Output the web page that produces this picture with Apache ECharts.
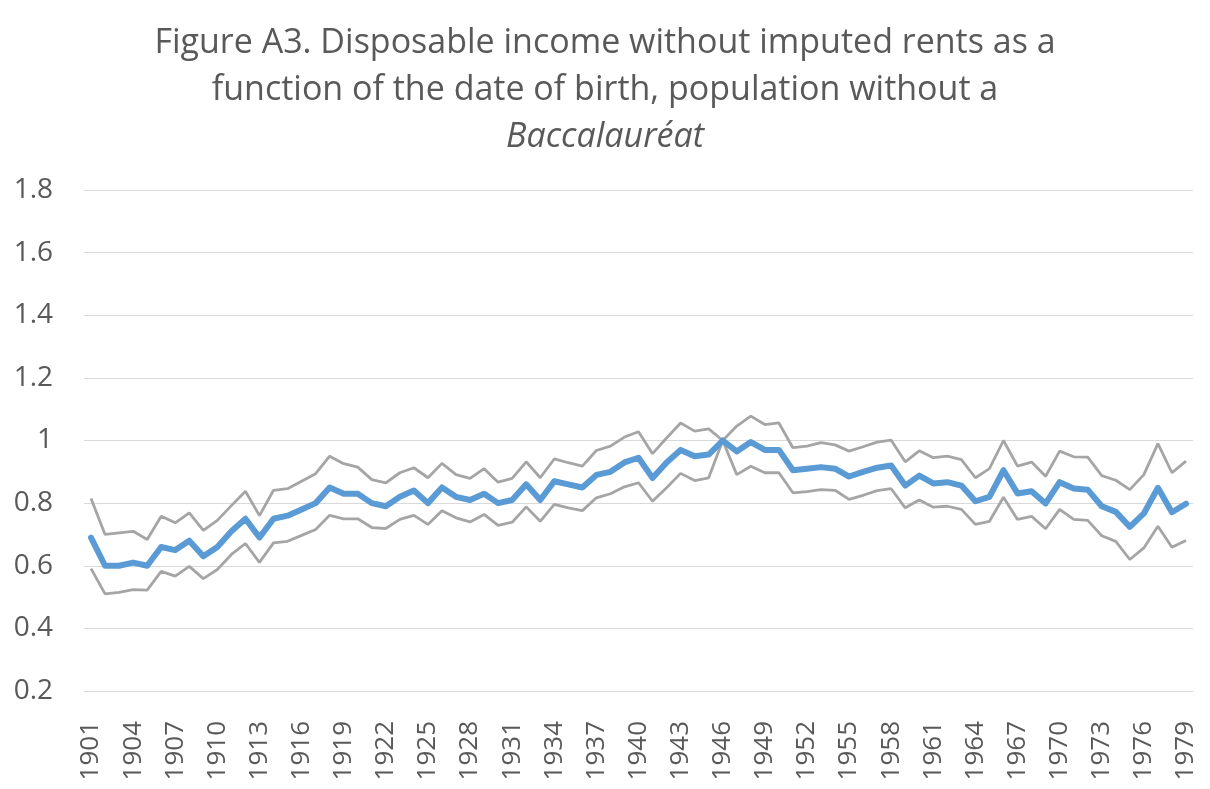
<!DOCTYPE html>
<html>
<head>
<meta charset="utf-8">
<script src="https://cdn.jsdelivr.net/npm/echarts@6/dist/echarts.min.js"></script>
<style>html,body{margin:0;padding:0;background:#fff;}#c{width:1210px;height:789px;}</style>
</head>
<body>
<div id="c"></div>
<script>
const years = [];
for (let y = 1901; y <= 1979; y++) years.push(String(y));

const central = [0.69,0.60,0.60,0.61,0.60,0.66,0.65,0.68,0.63,0.66,0.71,0.75,0.69,0.75,0.76,0.78,0.80,0.85,0.83,0.83,
0.80,0.79,0.82,0.84,0.80,0.85,0.82,0.81,0.83,0.80,0.81,0.86,0.81,0.87,0.86,0.85,0.89,0.90,0.93,0.945,
0.88,0.93,0.97,0.95,0.955,1.00,0.965,0.995,0.97,0.97,0.905,0.91,0.915,0.91,0.885,0.90,0.913,0.92,0.856,0.888,
0.863,0.867,0.856,0.806,0.82,0.905,0.831,0.838,0.799,0.867,0.847,0.843,0.79,0.772,0.724,0.767,0.849,0.771,0.798];

const upper = [0.815,0.70,0.705,0.71,0.684,0.758,0.737,0.769,0.713,0.745,0.792,0.838,0.76,0.841,0.846,0.87,0.894,0.95,0.926,0.915,
0.875,0.865,0.897,0.913,0.881,0.927,0.891,0.879,0.91,0.867,0.879,0.932,0.881,0.941,0.929,0.918,0.968,0.982,1.011,1.028,
0.958,1.008,1.056,1.03,1.037,1.00,1.046,1.078,1.051,1.056,0.977,0.982,0.993,0.986,0.966,0.98,0.995,1.001,0.932,0.967,
0.945,0.95,0.939,0.881,0.91,1.00,0.918,0.931,0.886,0.966,0.948,0.947,0.888,0.873,0.843,0.891,0.99,0.897,0.934];

const lower = [0.591,0.51,0.515,0.524,0.522,0.582,0.567,0.598,0.559,0.588,0.636,0.671,0.611,0.673,0.678,0.697,0.716,0.761,0.75,0.75,
0.722,0.719,0.748,0.761,0.732,0.776,0.753,0.74,0.764,0.729,0.739,0.788,0.742,0.796,0.785,0.776,0.817,0.83,0.852,0.865,
0.806,0.849,0.895,0.872,0.881,1.00,0.891,0.918,0.897,0.897,0.833,0.837,0.843,0.841,0.812,0.825,0.84,0.846,0.785,0.81,
0.787,0.79,0.78,0.732,0.742,0.819,0.748,0.758,0.718,0.78,0.748,0.745,0.696,0.678,0.62,0.657,0.726,0.659,0.681];

const yTicks = [0.2, 0.4, 0.6, 0.8, 1, 1.2, 1.4, 1.6, 1.8];

const chart = echarts.init(document.getElementById('c'));
const txt = '#595959';
const font = '"Open Sans", "Liberation Sans", sans-serif';
chart.setOption({
  animation: false,
  backgroundColor: '#ffffff',
  title: {
    text: 'Figure A3. Disposable income without imputed rents as a\nfunction of the date of birth, population without a\n{i|Baccalauréat}',
    left: 'center',
    top: 15,
    textStyle: {
      color: txt, fontSize: 34, fontWeight: 'normal', fontFamily: font, lineHeight: 47,
      rich: { i: { fontStyle: 'italic', color: txt, fontSize: 34, fontFamily: font, lineHeight: 47 } }
    }
  },
  grid: { left: 84, right: 17, top: 190, bottom: 98, containLabel: false },
  xAxis: {
    type: 'category',
    data: years,
    boundaryGap: true,
    axisLine: { show: true, lineStyle: { color: '#D9D9D9', width: 1 } },
    axisTick: { show: false },
    axisLabel: { interval: 2, rotate: 90, color: txt, fontSize: 26, fontFamily: font, margin: 30 }
  },
  yAxis: {
    type: 'value',
    min: yTicks[0], max: yTicks[yTicks.length - 1], interval: 0.2,
    axisLine: { show: false },
    axisTick: { show: false },
    splitLine: { lineStyle: { color: '#D9D9D9', width: 1 } },
    axisLabel: { color: txt, fontSize: 28, fontFamily: font, margin: 31,
      formatter: v => String(parseFloat(Number(v).toFixed(1))) }
  },
  series: [
    { name: 'upper', type: 'line', data: upper, showSymbol: false, symbol: 'none',
      lineStyle: { color: '#A5A5A5', width: 2.8 }, z: 2 },
    { name: 'lower', type: 'line', data: lower, showSymbol: false, symbol: 'none',
      lineStyle: { color: '#A5A5A5', width: 2.8 }, z: 2 },
    { name: 'central', type: 'line', data: central, showSymbol: false, symbol: 'none',
      lineStyle: { color: '#5B9BD5', width: 6, cap: 'round', join: 'round' }, z: 3 }
  ]
});
</script>
</body>
</html>
